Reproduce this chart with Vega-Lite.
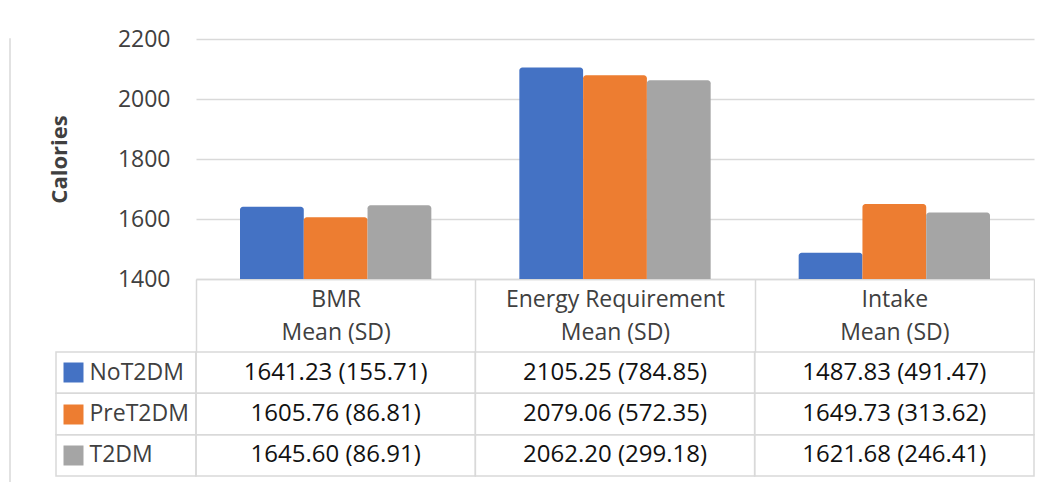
{
  "$schema": "https://vega.github.io/schema/vega-lite/v6.json",
  "background": "white",
  "padding": {"left": 9, "top": 28, "right": 0, "bottom": 0},
  "config": {"font": "Open Sans", "view": {"stroke": null}},
  "datasets": {
    "stats": [
      {"measure": "BMR", "group": "NoT2DM", "mean": 1641.23, "sd": 155.71},
      {"measure": "BMR", "group": "PreT2DM", "mean": 1605.76, "sd": 86.81},
      {"measure": "BMR", "group": "T2DM", "mean": 1645.60, "sd": 86.91},
      {"measure": "Energy Requirement", "group": "NoT2DM", "mean": 2105.25, "sd": 784.85},
      {"measure": "Energy Requirement", "group": "PreT2DM", "mean": 2079.06, "sd": 572.35},
      {"measure": "Energy Requirement", "group": "T2DM", "mean": 2062.20, "sd": 299.18},
      {"measure": "Intake", "group": "NoT2DM", "mean": 1487.83, "sd": 491.47},
      {"measure": "Intake", "group": "PreT2DM", "mean": 1649.73, "sd": 313.62},
      {"measure": "Intake", "group": "T2DM", "mean": 1621.68, "sd": 246.41}
    ]
  },
  "bounds": "flush",
  "spacing": 45,
  "hconcat": [
    {
      "width": 0.01,
      "height": 443,
      "data": {"values": []},
      "mark": "rect",
      "view": {"stroke": "#d9d9d9", "strokeWidth": 1.5}
    },
    {
      "columns": 2,
      "bounds": "flush",
      "spacing": {"row": 73, "column": 0},
      "concat": [
        {
          "width": 140,
          "height": 240,
          "data": {"values": []},
          "mark": "rect"
        },
        {
          "width": 838,
          "height": 240,
          "data": {"name": "stats"},
          "mark": {"type": "bar", "cornerRadiusTopLeft": 3, "cornerRadiusTopRight": 3},
          "encoding": {
            "x": {
              "field": "measure",
              "type": "nominal",
              "sort": ["BMR", "Energy Requirement", "Intake"],
              "scale": {"paddingInner": 0, "paddingOuter": 0},
              "axis": {
                "title": null,
                "tickBand": "extent",
                "tickSize": 73,
                "tickColor": "#d9d9d9",
                "tickWidth": 1.5,
                "domainColor": "#d9d9d9",
                "domainWidth": 1.5,
                "labelAngle": 0,
                "labelFontSize": 23,
                "labelColor": "#404040",
                "labelLimit": 400,
                "labelOverlap": false,
                "labelExpr": "datum.label ? [datum.label, 'Mean (SD)'] : ''",
                "labelLineHeight": 33,
                "labelBaseline": "middle",
                "labelPadding": -53
              }
            },
            "xOffset": {
              "field": "group",
              "type": "nominal",
              "sort": ["NoT2DM", "PreT2DM", "T2DM"],
              "scale": {"paddingInner": 0, "paddingOuter": 0.69}
            },
            "y": {
              "field": "mean",
              "type": "quantitative",
              "scale": {"domain": [1400, 2200], "nice": false, "zero": false},
              "axis": {
                "values": [1400, 1600, 1800, 2000, 2200],
                "format": "d",
                "title": "Calories",
                "titleFontSize": 22,
                "titleFontWeight": "bold",
                "titleColor": "#404040",
                "titlePadding": 46,
                "labelFontSize": 23,
                "labelColor": "#404040",
                "labelPadding": 26,
                "labelFlush": false,
                "ticks": false,
                "domain": false,
                "gridColor": "#d9d9d9",
                "gridWidth": 1.5
              }
            },
            "y2": {"datum": 1400},
            "color": {
              "field": "group",
              "type": "nominal",
              "sort": ["NoT2DM", "PreT2DM", "T2DM"],
              "scale": {"range": ["#4472C4", "#ED7D31", "#A5A5A5"]},
              "legend": null
            }
          }
        },
        {
          "width": 140,
          "height": 124,
          "data": {"name": "stats"},
          "transform": [{"filter": "datum.measure === 'BMR'"}],
          "mark": {"type": "rect", "filled": false, "stroke": "#d9d9d9", "strokeWidth": 1.5},
          "encoding": {
            "y": {
              "field": "group",
              "type": "nominal",
              "sort": ["NoT2DM", "PreT2DM", "T2DM"],
              "scale": {"paddingInner": 0, "paddingOuter": 0},
              "axis": {
                "title": null,
                "offset": -7,
                "domain": false,
                "grid": false,
                "tickSize": -20,
                "tickWidth": 20,
                "tickColor": {
                  "condition": [
                    {"test": "datum.value === 'NoT2DM'", "value": "#4472C4"},
                    {"test": "datum.value === 'PreT2DM'", "value": "#ED7D31"}
                  ],
                  "value": "#A5A5A5"
                },
                "labelAlign": "left",
                "labelBaseline": "middle",
                "labelPadding": -6,
                "labelFontSize": 23,
                "labelColor": "#404040"
              }
            }
          }
        },
        {
          "width": 838,
          "height": 124,
          "data": {"name": "stats"},
          "transform": [
            {"calculate": "format(datum.mean, '.2f') + ' (' + format(datum.sd, '.2f') + ')'", "as": "cell"}
          ],
          "encoding": {
            "x": {
              "field": "measure",
              "type": "nominal",
              "sort": ["BMR", "Energy Requirement", "Intake"],
              "scale": {"paddingInner": 0, "paddingOuter": 0},
              "axis": null
            },
            "y": {
              "field": "group",
              "type": "nominal",
              "sort": ["NoT2DM", "PreT2DM", "T2DM"],
              "scale": {"paddingInner": 0, "paddingOuter": 0},
              "axis": null
            }
          },
          "layer": [
            {"mark": {"type": "rect", "filled": false, "stroke": "#d9d9d9", "strokeWidth": 1.5}},
            {
              "mark": {"type": "text", "fontSize": 24, "color": "#111111"},
              "encoding": {"text": {"field": "cell"}}
            }
          ]
        }
      ]
    }
  ]
}
